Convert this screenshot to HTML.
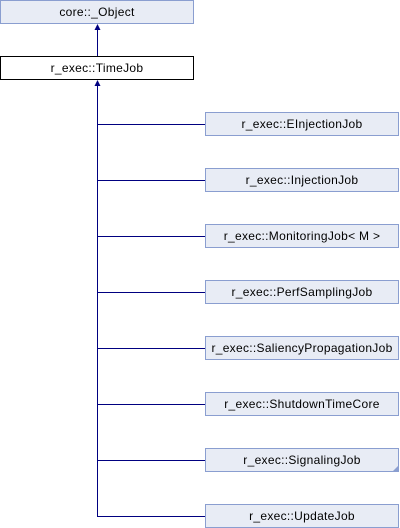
<!DOCTYPE html>
<html><head><style>html,body{margin:0;padding:0;background:#fff}svg{display:block}text{font-family:"Liberation Sans",Arial,sans-serif;font-size:12px;letter-spacing:0.3px;fill:#000}</style></head><body>
<svg width="400" height="528" xmlns="http://www.w3.org/2000/svg">
<g stroke="#8a9ed0" fill="#e8ecf5">
<rect x="0.5" y="0.5" width="193" height="23"/>
<rect x="205.5" y="112.5" width="193" height="23"/>
<rect x="205.5" y="168.5" width="193" height="23"/>
<rect x="205.5" y="224.5" width="193" height="23"/>
<rect x="205.5" y="280.5" width="193" height="23"/>
<rect x="205.5" y="336.5" width="193" height="23"/>
<rect x="205.5" y="392.5" width="193" height="23"/>
<rect x="205.5" y="448.5" width="193" height="23"/>
<rect x="205.5" y="504.5" width="193" height="23"/>
</g>
<polygon points="398,466 398,471 393,471" fill="#8a9ed0"/>
<rect x="0.5" y="56.5" width="193" height="23" fill="#fff" stroke="#000"/>
<g stroke="#000080" fill="none">
<line x1="97.5" y1="28" x2="97.5" y2="56"/>
<line x1="97.5" y1="84" x2="97.5" y2="517"/>
<line x1="97" y1="124.5" x2="205" y2="124.5"/>
<line x1="97" y1="180.5" x2="205" y2="180.5"/>
<line x1="97" y1="236.5" x2="205" y2="236.5"/>
<line x1="97" y1="292.5" x2="205" y2="292.5"/>
<line x1="97" y1="348.5" x2="205" y2="348.5"/>
<line x1="97" y1="404.5" x2="205" y2="404.5"/>
<line x1="97" y1="460.5" x2="205" y2="460.5"/>
<line x1="97" y1="516.5" x2="205" y2="516.5"/>
</g>
<polygon points="97.5,24 94.5,30 100.5,30" fill="#000080"/>
<polygon points="97.5,80 94.5,86 100.5,86" fill="#000080"/>
<g text-anchor="middle">
<text x="97" y="16">core::_Object</text>
<text x="97" y="72">r_exec::TimeJob</text>
<text x="302" y="128">r_exec::EInjectionJob</text>
<text x="302" y="184">r_exec::InjectionJob</text>
<text x="302" y="240">r_exec::MonitoringJob&lt; M &gt;</text>
<text x="302" y="296">r_exec::PerfSamplingJob</text>
<text x="302" y="352">r_exec::SaliencyPropagationJob</text>
<text x="302" y="408">r_exec::ShutdownTimeCore</text>
<text x="302" y="464">r_exec::SignalingJob</text>
<text x="302" y="520">r_exec::UpdateJob</text>
</g>
</svg>
</body></html>
